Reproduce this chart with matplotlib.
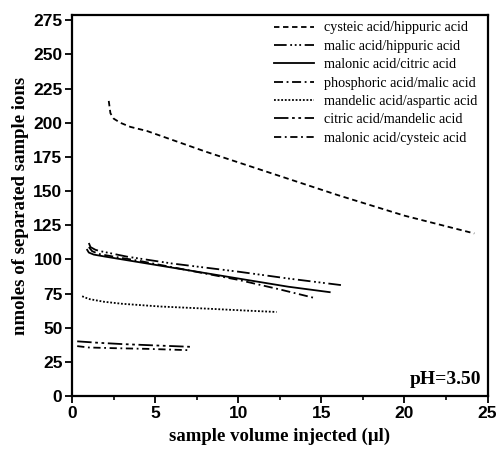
import matplotlib.pyplot as plt
import numpy as np

# sample volume (ul) vs nmoles of separated ions
cys_hip_x = [2.2, 2.3, 2.5, 2.9, 3.5, 4.5, 8.0, 12.0, 16.0, 20.0, 24.2]
cys_hip_y = [216, 207, 203, 200, 197, 194, 179, 163, 147, 132, 119]

mal_hip_x = [1.0, 1.1, 1.4, 1.7, 2.5, 3.3, 6.0, 10.0, 13.0, 16.3]
mal_hip_y = [112, 109, 107, 106, 104, 102, 97, 91, 86, 81]

malo_cit_x = [0.9, 1.0, 1.3, 2.0, 3.0, 6.0, 10.0, 13.0, 15.5]
malo_cit_y = [107, 105, 103.5, 102, 100, 94, 86, 80, 76]

phos_mal_x = [1.0, 1.2, 1.6, 2.5, 4.0, 7.0, 10.0, 12.5, 14.5]
phos_mal_y = [109, 106, 104, 102, 99, 92, 85, 78, 72]

mand_asp_x = [0.6, 1.0, 1.9, 3.0, 5.3, 8.0, 10.5, 12.3]
mand_asp_y = [73, 71, 69, 67.5, 65.5, 64, 62.5, 61.5]

cit_mand_x = [0.3, 1.5, 3.0, 5.0, 7.1]
cit_mand_y = [40, 39, 38, 37, 36]

malo_cys_x = [0.3, 1.0, 2.5, 4.5, 7.1]
malo_cys_y = [36.5, 35.5, 35, 34.5, 33.5]

series = [
    (cys_hip_x, cys_hip_y, 'cysteic acid/hippuric acid', (0, (3, 2))),
    (mal_hip_x, mal_hip_y, 'malic acid/hippuric acid', (0, (7, 2, 1, 1.5, 1, 1.5, 1, 2))),
    (malo_cit_x, malo_cit_y, 'malonic acid/citric acid', '-'),
    (phos_mal_x, phos_mal_y, 'phosphoric acid/malic acid', (0, (5, 2, 1, 2))),
    (mand_asp_x, mand_asp_y, 'mandelic acid/aspartic acid', (0, (1, 1))),
    (cit_mand_x, cit_mand_y, 'citric acid/mandelic acid', (0, (8, 2, 1.5, 2, 1.5, 2))),
    (malo_cys_x, malo_cys_y, 'malonic acid/cysteic acid', (0, (4, 2, 1, 2))),
]

fig = plt.figure(figsize=(4.98, 4.51), dpi=100)
ax = fig.add_axes([0.145, 0.122, 0.834, 0.845])

for x, y, lab, ls in series:
    ax.plot(x, y, color='black', linestyle=ls, linewidth=1.3, label=lab)

ax.set_xlim(0, 25)
ax.set_ylim(0, 279)
ax.set_xticks([0, 5, 10, 15, 20, 25])
ax.set_xticks(np.arange(0, 25.1, 2.5), minor=True)
ax.set_yticks(np.arange(0, 276, 25))
ax.tick_params(direction='out', width=1.3, length=5, labelsize=12.5, pad=2)
ax.tick_params(axis='x', which='minor', direction='out', length=3, width=1.2)
for lab in ax.get_xticklabels() + ax.get_yticklabels():
    lab.set_family('Liberation Sans')
    lab.set_fontweight('bold')
for s in ax.spines.values():
    s.set_linewidth(1.6)

ax.set_xlabel('sample volume injected (\u00b5l)', family='Liberation Serif',
              fontweight='bold', fontsize=13.5, labelpad=5)
ax.set_ylabel('nmoles of separated sample ions', family='Liberation Serif',
              fontweight='bold', fontsize=13.5, labelpad=3)

ax.legend(loc='upper right', frameon=False, handlelength=2.8, handletextpad=0.7,
          labelspacing=0.38, prop={'family': 'Liberation Serif', 'size': 10.2},
          bbox_to_anchor=(0.995, 1.005), borderaxespad=0.2)

ax.text(0.985, 0.02, 'pH=3.50', transform=ax.transAxes, ha='right', va='bottom',
        family='Liberation Serif', fontweight='bold', fontsize=14)

fig.savefig('out.png', dpi=100)
